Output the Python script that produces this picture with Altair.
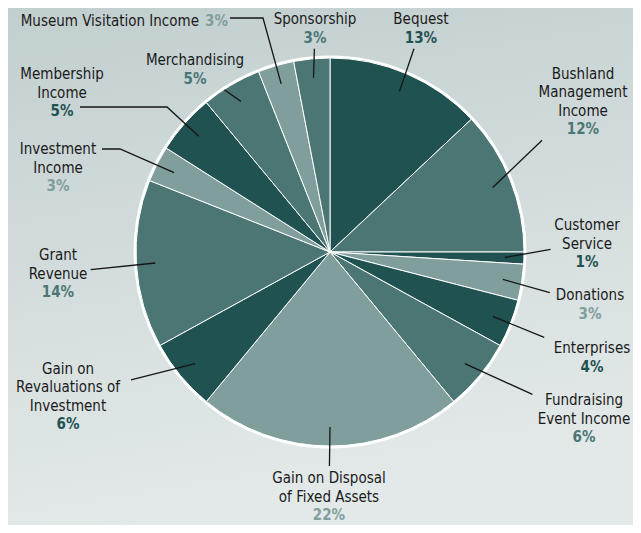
import math
import altair as alt
import pandas as pd

# ---------------- data ----------------
categories = [
    "Bequest", "Bushland Management Income", "Customer Service", "Donations",
    "Enterprises", "Fundraising Event Income", "Gain on Disposal of Fixed Assets",
    "Gain on Revaluations of Investment", "Grant Revenue", "Investment Income",
    "Membership Income", "Merchandising", "Museum Visitation Income", "Sponsorship",
]
values = [13, 12, 1, 3, 4, 6, 22, 6, 14, 3, 5, 5, 3, 3]
label_text = [
    "Bequest", "Bushland\nManagement\nIncome", "Customer\nService", "Donations",
    "Enterprises", "Fundraising\nEvent Income", "Gain on Disposal\nof Fixed Assets",
    "Gain on\nRevaluations of\nInvestment", "Grant\nRevenue", "Investment\nIncome",
    "Membership\nIncome", "Merchandising", "Museum Visitation Income", "Sponsorship",
]

# ---------------- styles ----------------
DARK, MID, LIGHT = "#1f5250", "#4b7674", "#7f9e9c"
slice_colors = [DARK, MID, DARK, LIGHT, DARK, MID, LIGHT, DARK, MID, LIGHT, DARK, MID, LIGHT, MID]
FONT = "DejaVu Sans Condensed"
FS = 15
LH = 18.5
CAP = 11

# ---------------- layout ----------------
W, H = 625, 517
CX, CY = 322, 244          # pie centre
R = 194                    # pie radius
R_ANCHOR = 175             # where leader lines start
INLINE = {"Museum Visitation Income"}
# label centres, relative to the pie centre (annotation layout)
LABEL_CENTER = {
    "Bequest": (91, -224),
    "Bushland Management Income": (253, -151),
    "Customer Service": (257, -9),
    "Donations": (260, 52),
    "Enterprises": (262, 105),
    "Fundraising Event Income": (254, 166),
    "Gain on Disposal of Fixed Assets": (-1, 244),
    "Gain on Revaluations of Investment": (-262, 144),
    "Grant Revenue": (-272, 21),
    "Investment Income": (-272, -85),
    "Membership Income": (-268, -160),
    "Merchandising": (-135, -183),
    "Museum Visitation Income": (-128, -232),
    "Sponsorship": (-15, -224),
}
# leader lines that bend into a horizontal tail
LEADER_BEND = {
    "Museum Visitation Income": [(-67, -234), (-100, -234)],
    "Membership Income": [(-163, -145), (-250, -145)],
    "Investment Income": [(-210, -103), (-228, -103)],
}

# ---------------- derived tables ----------------
total = float(sum(values))
rows, pts = [], []
cum = 0.0
for i, (cat, v, lab) in enumerate(zip(categories, values, label_text)):
    mid = (cum + v / 2.0) / total * 2 * math.pi
    cum += v
    ax, ay = CX + R_ANCHOR * math.sin(mid), CY - R_ANCHOR * math.cos(mid)
    rx, ry = LABEL_CENTER[cat]
    lx, ly = CX + rx, CY + ry
    lines = lab.split("\n")
    inline = cat in INLINE
    if inline:
        base = ly + CAP / 2.0
        name_y, pct_y = base, base
        name_x, pct_x = lx - 3, lx + 3
    else:
        n = len(lines)
        vis = n * LH + CAP
        top = ly - vis / 2.0
        name_y = top + CAP
        pct_y = name_y + n * LH
        name_x = pct_x = lx
    rows.append(dict(category=cat, value=v, order=i, label=lab, pct=f"{v}%",
                     inline=inline, name_x=name_x, name_y=name_y,
                     pct_x=pct_x, pct_y=pct_y))
    # leader line
    path = [(ax, ay)]
    if cat in LEADER_BEND:
        path += [(CX + px, CY + py) for px, py in LEADER_BEND[cat]]
    else:
        maxlen = max(len(s) for s in lines + [f"{v}%"])
        hw = maxlen * 3.8 + 6
        hh = (len(lines) * LH + CAP) / 2.0 + 6
        dx, dy = lx - ax, ly - ay
        ts = []
        if abs(dx) > 1e-6:
            ts.append(((lx - math.copysign(hw, dx)) - ax) / dx)
        if abs(dy) > 1e-6:
            ts.append(((ly - math.copysign(hh, dy)) - ay) / dy)
        t = max(ts)
        path.append((ax + t * dx, ay + t * dy))
    for k, (px, py) in enumerate(path):
        pts.append(dict(category=cat, seq=k, px=px, py=py))

df = pd.DataFrame(rows)
lines_df = pd.DataFrame(pts)

color_scale = alt.Scale(domain=categories, range=slice_colors)

# ---------------- chart ----------------
bg = alt.Chart(pd.DataFrame({"a": [0]})).mark_rect(
    color=alt.Gradient(
        gradient="linear",
        stops=[alt.GradientStop(color="#c2cfcf", offset=0),
               alt.GradientStop(color="#d3dcdc", offset=0.5),
               alt.GradientStop(color="#e3e9e9", offset=1)],
        x1=0, x2=0.2, y1=0, y2=1,
    )
).encode(x=alt.value(0), x2=alt.value(W), y=alt.value(0), y2=alt.value(H))

ring = alt.Chart(pd.DataFrame({"a": [0]})).mark_arc(
    color="white", radius=R + 2.5, radius2=R - 0.5
).encode(x=alt.value(CX), y=alt.value(CY), theta=alt.value(0), theta2=alt.value(2 * math.pi))

pie = alt.Chart(df).mark_arc(radius=R, stroke="white", strokeWidth=1).encode(
    theta=alt.Theta("value:Q", stack=True),
    order=alt.Order("order:Q"),
    color=alt.Color("category:N", scale=color_scale, legend=None),
    x=alt.value(CX), y=alt.value(CY),
)

leaders = alt.Chart(lines_df).mark_line(color="#151515", strokeWidth=1.3).encode(
    x=alt.X("px:Q", scale=None, axis=None),
    y=alt.Y("py:Q", scale=None, axis=None),
    detail="category:N",
    order="seq:Q",
)

name_c = alt.Chart(df).transform_filter("!datum.inline").mark_text(
    font=FONT, fontSize=FS, align="center", baseline="alphabetic",
    lineBreak="\n", lineHeight=LH, color="#1a1a1a",
).encode(x=alt.X("name_x:Q", scale=None, axis=None),
         y=alt.Y("name_y:Q", scale=None, axis=None), text="label:N")

pct_c = alt.Chart(df).transform_filter("!datum.inline").mark_text(
    font=FONT, fontSize=FS, fontWeight="bold", align="center", baseline="alphabetic",
).encode(x=alt.X("pct_x:Q", scale=None, axis=None),
         y=alt.Y("pct_y:Q", scale=None, axis=None), text="pct:N",
         color=alt.Color("category:N", scale=color_scale, legend=None))

name_i = alt.Chart(df).transform_filter("datum.inline").mark_text(
    font=FONT, fontSize=FS, align="right", baseline="alphabetic", color="#1a1a1a",
).encode(x=alt.X("name_x:Q", scale=None, axis=None),
         y=alt.Y("name_y:Q", scale=None, axis=None), text="label:N")

pct_i = alt.Chart(df).transform_filter("datum.inline").mark_text(
    font=FONT, fontSize=FS, fontWeight="bold", align="left", baseline="alphabetic",
).encode(x=alt.X("pct_x:Q", scale=None, axis=None),
         y=alt.Y("pct_y:Q", scale=None, axis=None), text="pct:N",
         color=alt.Color("category:N", scale=color_scale, legend=None))

chart = alt.layer(bg, ring, pie, leaders, name_c, pct_c, name_i, pct_i).properties(
    width=W, height=H,
    autosize=alt.AutoSizeParams(type="none"),
    padding=0,
).configure_view(stroke=None).configure(background="#d0dada")

chart.save("out.html", embed_options={"renderer": "svg", "actions": False})
